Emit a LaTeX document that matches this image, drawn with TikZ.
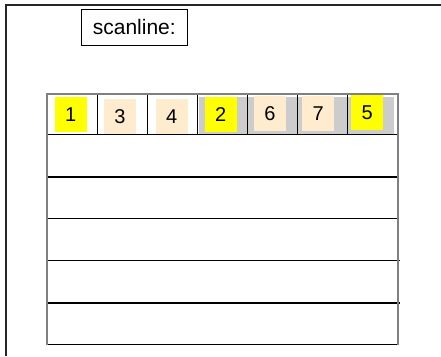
\documentclass[tikz,border=0pt]{standalone}
\usepackage{fontspec}
\setmainfont{Liberation Sans}
\usetikzlibrary{positioning}
\definecolor{hit}{RGB}{255,255,0}
\definecolor{wait}{RGB}{255,235,205}
\definecolor{band}{RGB}{204,204,204}
\definecolor{edge}{RGB}{128,128,128}

\begin{document}
\begin{tikzpicture}[x=1pt, y=-1pt,
    entry/.style={minimum width=32pt, minimum height=35pt, inner sep=0pt, font=\fontsize{20}{22}\selectfont, text=black},
    hot/.style={entry, fill=hit},
    cold/.style={entry, fill=wait},
    rowline/.style={black, line width=1pt},
    boldline/.style={black, line width=2pt},
]
\useasboundingbox (0,0) rectangle (441,356);
% page frame
\draw[black!85, line width=2pt] (5.5,356) -- (5.5,5) -- (441,5);

% label
\node[draw, line width=0.8pt, minimum width=106pt, minimum height=36.5pt, inner sep=0pt, font=\fontsize{21}{23}\selectfont] (scan) at (134.3,27.3) {scanline:};

% grey band behind the last four slots
\fill[band] (198.5,96.5) rectangle (394.3,133.5);

% slots
\node[hot]  (c1) at (70.8,114.8) {1};
\node[cold] (c2) at (120,116.2) {3};
\node[cold] (c3) at (171.8,116.2) {4};
\node[hot]  (c4) at (220.8,114.8) {2};
\node[cold] (c5) at (270,113.8) {6};
\node[cold] (c6) at (318.2,113.8) {7};
\node[hot]  (c7) at (367.2,112.5) {5};

% separators
\foreach \x in {97.5,147.5,197.5,247.5,297.5,347.5}
  \draw[rowline] (\x,93.5) -- (\x,134.5);

% rows
\draw[rowline] (47,134.5) -- (398,134.5);
\draw[boldline] (47,176.5) -- (399,176.5);
\draw[rowline] (47,218.5) -- (398,218.5);
\draw[rowline] (47,260.5) -- (400,260.5);
\draw[boldline] (47,302.5) -- (400,302.5);
\draw[rowline] (47,344.5) -- (398,344.5);

% table outline
\draw[edge, line width=2pt] (47,345) -- (47,93.5) -- (398,93.5) -- (398,345);
\end{tikzpicture}
\end{document}
